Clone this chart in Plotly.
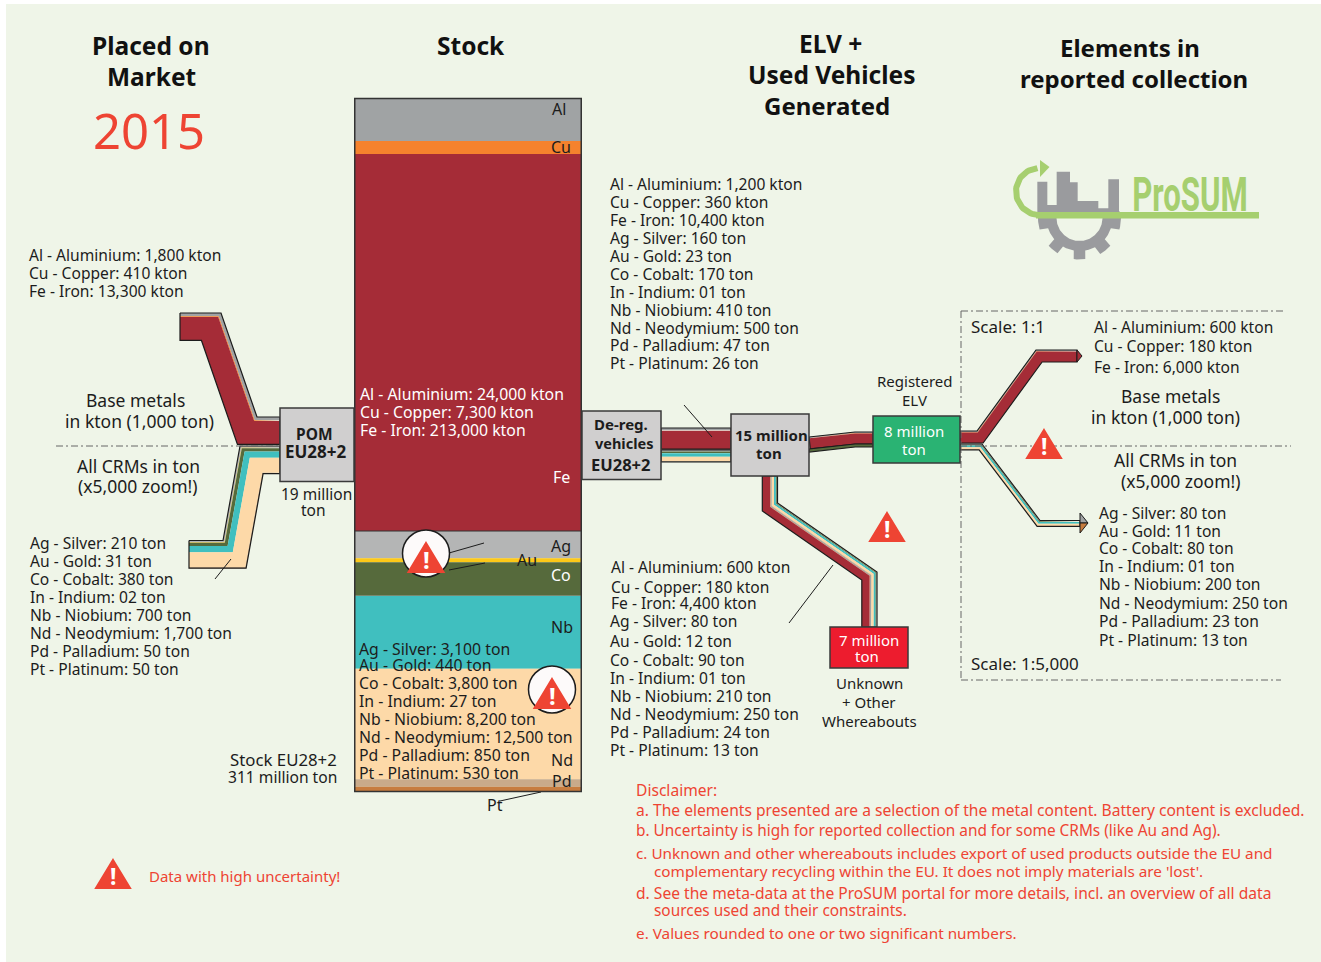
import numpy as np
import plotly.graph_objects as go

BASE_NAMES = ["Al - Aluminium", "Cu - Copper", "Fe - Iron"]
CRM_NAMES = ["Ag - Silver", "Au - Gold", "Co - Cobalt", "In - Indium",
             "Nb - Niobium", "Nd - Neodymium", "Pd - Palladium", "Pt - Platinum"]
BASE_COLORS = ["#a0a3a4", "#f5822d", "#a52c37"]
CRM_COLORS = ["#b4b5b5", "#fdc818", "#566a3c", "#7a8a70", "#40bfbf", "#fdd9a8", "#c9aa8a", "#c77c3f"]

# kton
POM_BASE = [1800, 410, 13300]
STOCK_BASE = [24000, 7300, 213000]
DEREG_BASE = [1200, 360, 10400]
UNKNOWN_BASE = [600, 180, 4400]
COLLECT_BASE = [600, 180, 6000]
# ton
POM_CRM = [210, 31, 380, 2, 700, 1700, 50, 50]
STOCK_CRM = [3100, 440, 3800, 27, 8200, 12500, 850, 530]
DEREG_CRM = [160, 23, 170, 1, 410, 500, 47, 26]
UNKNOWN_CRM = [80, 12, 90, 1, 210, 250, 24, 13]
COLLECT_CRM = [80, 11, 80, 1, 200, 250, 23, 13]

# px per kton / per ton (the 1:5,000 zoom)
KTON = 1.77 / 1000
TON = 1.77 / 200

FONT = "Noto Sans"
INK = "#1c1c1c"
RED = "#ee4433"
PAGE = "#eff5e8"
LIST_SIZE = 15.6

fig = go.Figure()


def label(x, y, text, size=15, color=INK, anchor="left", bold=False, font=FONT):
    # annotations sit about 2px right and a bit low of the asked position
    fig.add_annotation(
        x=x - 2 if anchor == "left" else x, y=y - 0.5, text=f"<b>{text}</b>" if bold else text,
        showarrow=False, xanchor=anchor, yanchor="middle",
        font=dict(size=size, color=color, family=font),
    )


def poly(points, color, line=None, width=0):
    xs, ys = zip(*points)
    fig.add_trace(go.Scatter(
        x=list(xs) + [xs[0]], y=list(ys) + [ys[0]], mode="lines", fill="toself", fillcolor=color,
        line=dict(color=line or color, width=width), hoverinfo="skip",
    ))


def stroke(points, color=INK, width=1, dash=None):
    xs, ys = zip(*points)
    fig.add_trace(go.Scatter(
        x=xs, y=ys, mode="lines", line=dict(color=color, width=width, dash=dash), hoverinfo="skip",
    ))


def offset_path(path, dist):
    # mitred parallel of a polyline
    path = np.array(path, dtype=float)
    seg = np.diff(path, axis=0)
    seg = seg / np.linalg.norm(seg, axis=1, keepdims=True)
    normals = np.column_stack([-seg[:, 1], seg[:, 0]])
    out = [path[0] + normals[0] * dist]
    for i in range(1, len(path) - 1):
        m = normals[i - 1] + normals[i]
        m = m / np.linalg.norm(m)
        out.append(path[i] + m * dist / np.dot(m, normals[i]))
    out.append(path[-1] + normals[-1] * dist)
    return np.array(out)


def ribbon(path, widths, colors, outline=1.2):
    edges = np.concatenate([[0], np.cumsum(widths)])
    for i, color in enumerate(colors):
        a = offset_path(path, edges[i])
        b = offset_path(path, edges[i + 1])
        poly(list(map(tuple, a)) + list(map(tuple, b[::-1])), color)
    if outline:
        top = list(map(tuple, offset_path(path, 0)))
        bottom = list(map(tuple, offset_path(path, edges[-1])))
        stroke(top + bottom[::-1] + top[:1], width=outline)


def box(x0, y0, x1, y1, color):
    fig.add_shape(type="rect", x0=x0, y0=y0, x1=x1, y1=y1, fillcolor=color,
                  line=dict(color="#3a3a3a", width=1.5), layer="above")


def warning(cx, top, w=34, h=28, circled=False):
    if circled:
        fig.add_shape(type="circle", x0=cx - 23.5, y0=top - 13, x1=cx + 23.5, y1=top + 34, fillcolor="#fdfafa",
                      line=dict(color=INK, width=1.5), layer="above")
    fig.add_shape(type="path", path=f"M {cx} {top} L {cx + w / 2} {top + h} L {cx - w / 2} {top + h} Z",
                  fillcolor=RED, line=dict(color=RED, width=2, ), layer="above")
    label(cx, top + h * 0.6, "!", size=int(h * 0.85), color="white", anchor="center", bold=True)


# flows
ribbon([(180, 313), (221, 313), (257, 417), (280, 417)],
       np.array(POM_BASE) * KTON, BASE_COLORS)
ribbon([(189, 540.5), (223, 540.5), (240, 446), (280, 446)],
       np.array(POM_CRM) * TON, CRM_COLORS)
ribbon([(661, 428), (731, 428)], np.array(DEREG_BASE) * KTON, BASE_COLORS)
ribbon([(661, 450), (731, 450)], np.array(DEREG_CRM) * TON, CRM_COLORS)
ribbon([(809, 437), (855, 432), (873, 432)], np.array(COLLECT_BASE) * KTON, BASE_COLORS)
ribbon([(809, 449), (855, 444), (873, 444)], [3], [CRM_COLORS[2]])
ribbon([(777.5, 476), (777.5, 503), (877, 572), (877, 627)],
       np.concatenate([np.array(UNKNOWN_CRM) * TON, np.array(UNKNOWN_BASE) * KTON]), CRM_COLORS + BASE_COLORS)
ribbon([(960, 431), (977, 431), (1036, 350), (1077, 350)], np.array(COLLECT_BASE) * KTON, BASE_COLORS)
poly([(1077, 350), (1082, 356), (1077, 362)], BASE_COLORS[2], line=INK, width=1)
ribbon([(960, 444), (982, 444), (1040, 520.5), (1080, 520.5)], np.array(COLLECT_CRM) * TON, CRM_COLORS)
poly([(1080, 513), (1088, 523), (1080, 523)], BASE_COLORS[0], line=INK, width=1)
poly([(1080, 523), (1088, 523), (1080, 533)], CRM_COLORS[7], line=INK, width=1)

# stock column, built from the values
stock_h = np.concatenate([np.array(STOCK_BASE) * KTON, np.array(STOCK_CRM) * TON])
stock_base = 98.5 + np.concatenate([[0], np.cumsum(stock_h)[:-1]])
fig.add_trace(go.Bar(
    x=[468] * len(stock_h), y=stock_h, base=stock_base, width=[226.5] * len(stock_h),
    marker=dict(color=BASE_COLORS + CRM_COLORS, line=dict(width=0)), hoverinfo="skip",
))
fig.add_shape(type="rect", x0=354.75, x1=581.25, y0=98.5, y1=98.5 + stock_h.sum(),
              line=dict(color="#333333", width=1.5), layer="above")
fig.add_shape(type="line", x0=354.75, x1=581.25, y0=531, y1=531, line=dict(color="#333333", width=1), layer="above")

# dash-dot frame and scale split
GUIDE = dict(color="#666666", width=1, dash="7px,3px,2px,3px")
stroke([(56, 446), (280, 446)], **GUIDE)
stroke([(960, 446), (1291, 446)], **GUIDE)
stroke([(961, 311), (1285, 311)], **GUIDE)
stroke([(961, 311), (961, 680)], **GUIDE)
stroke([(961, 680), (1281, 680)], **GUIDE)

# leader lines
for seg in [[(215, 579), (231, 559)], [(449, 553), (484, 543)], [(449, 570), (485, 563)],
            [(500, 801), (541, 792)], [(684, 405), (712, 437)], [(789, 623), (833, 565)]]:
    stroke(seg, width=1)

# nodes
box(280, 408, 354, 481.5, "#d0cfcf")
box(582, 411, 661, 479.5, "#d0cfcf")
box(731, 414, 809, 476, "#d0cfcf")
box(873, 416, 960, 463, "#2ab373")
box(830, 627, 908, 668, "#ed1c2e")

warning(426, 543, w=35, h=29, circled=True)
warning(552, 679, w=35, h=29, circled=True)
warning(887, 513)
warning(1044, 430)
warning(113, 860, w=34, h=28)

# logo
LOGO_GREY = "#9a9b9e"
LOGO_GREEN = "#a6cf6f"
skyline = [(112, 95), (142, 95), (142, 165), (170, 165), (170, 65), (210, 65), (210, 97), (233, 97), (233, 153),
           (295, 153), (295, 175), (325, 175), (325, 88), (357, 88), (357, 182), (362, 190), (112, 190)]
poly([(1000 + a / 3, 150 + b / 3) for a, b in skyline], LOGO_GREY)
gear_c = (1079.5, 218)
ang = np.radians(np.linspace(0, 180, 91))
tooth = np.zeros_like(ang)
for t in [8, 50, 90, 130, 172]:
    tooth = np.maximum(tooth, (np.abs(np.degrees(ang) - t) < 10) * 1.0)
r_out = 33 + 8.5 * tooth
outer = [(gear_c[0] + r * np.cos(a), gear_c[1] + r * np.sin(a)) for r, a in zip(r_out, ang)]
inner = [(gear_c[0] + 23 * np.cos(a), gear_c[1] + 23 * np.sin(a)) for a in ang[::-1]]
poly(outer + inner, LOGO_GREY)
fig.add_shape(type="rect", x0=1036, x1=1259, y0=212, y1=218.5, fillcolor=LOGO_GREEN, line=dict(width=0), layer="above")
arc = np.radians(np.linspace(95, 265, 40))
fig.add_trace(go.Scatter(
    x=1039.5 + 23.5 * np.cos(arc), y=191.5 + 23.5 * np.sin(-arc), mode="lines",
    line=dict(color=LOGO_GREEN, width=6), hoverinfo="skip",
))
poly([(1040, 160), (1049.5, 167), (1040, 177)], LOGO_GREEN)
label(1190, 195, "ProSUM", size=48, color=LOGO_GREEN, anchor="center", bold=True, font="Roboto")


def amount(name, value, unit):
    text = f"{value:02d}" if value < 10 else f"{value:,}"
    return f"{name}: {text} {unit}"


def value_list(x, ys, names, values, unit, size=LIST_SIZE, **kw):
    for y, name, value in zip(ys, names, values):
        label(x, y, amount(name, value, unit), size=size, **kw)


# headings
for x, y, t, s in [(151, 45.5, "Placed on", 24.5), (151, 76.5, "Market", 24.5), (471, 45.5, "Stock", 24.5),
                   (830, 43.5, "ELV +", 24.5), (831, 74.5, "Used Vehicles", 24.5), (827, 105.5, "Generated", 24),
                   (1130, 47.5, "Elements in", 24), (1134, 78.5, "reported collection", 24)]:
    label(x, y, t, size=s, color="#111111", anchor="center", bold=True)
label(149, 130.5, "2015", size=49, color=RED, anchor="center")

# placed on market
value_list(29, [255, 273, 291], BASE_NAMES, POM_BASE, "kton")
value_list(30, [543, 561, 579, 597, 615, 633, 651, 669], CRM_NAMES, POM_CRM, "ton")
label(135, 400, "Base metals", size=17.5, anchor="center")
label(139, 421, "in kton (1,000 ton)", size=17.5, anchor="center")
label(138, 466, "All CRMs in ton", size=17.5, anchor="center")
label(138, 486, "(x5,000 zoom!)", size=17.5, anchor="center")
label(316, 494, "19 million", size=15.5, anchor="center")
label(313, 510, "ton", size=15.5, anchor="center")
label(314, 434, "POM", size=15.5, anchor="center", bold=True)
label(316, 452, "EU28+2", size=17, anchor="center", bold=True)

# stock
value_list(360, [394, 412, 430], BASE_NAMES, STOCK_BASE, "kton", size=15.8, color="white")
value_list(359, [649, 665, 683, 701, 719, 737, 755, 773], CRM_NAMES, STOCK_CRM, "ton", size=15.8)
for x, y, t, c in [(559, 109, "Al", INK), (561, 147, "Cu", INK), (561, 477, "Fe", "white"), (561, 546, "Ag", INK),
                   (527, 560, "Au", INK), (561, 575, "Co", "white"), (562, 627, "Nb", INK), (562, 760, "Nd", INK),
                   (562, 781, "Pd", INK), (495, 805, "Pt", INK)]:
    label(x, y, t, size=16, color=c, anchor="center")
label(283, 760, "Stock EU28+2", size=16.8, anchor="center")
label(282, 777, "311 million ton", size=15.6, anchor="center")

# ELV + used vehicles
value_list(610, [184, 202, 220], BASE_NAMES, DEREG_BASE, "kton")
value_list(610, [238, 256, 274, 292, 310, 328, 345, 363], CRM_NAMES, DEREG_CRM, "ton")
value_list(611, [567, 587, 603], BASE_NAMES, UNKNOWN_BASE, "kton")
value_list(610, [621, 641, 660, 678, 696, 714, 732, 750], CRM_NAMES, UNKNOWN_CRM, "ton")
label(621, 424, "De-reg.", size=15, anchor="center", bold=True)
label(624, 443, "vehicles", size=14.5, anchor="center", bold=True)
label(620, 465, "EU28+2", size=16.5, anchor="center", bold=True)
label(771, 435, "15 million", anchor="center", bold=True)
label(769, 453, "ton", anchor="center", bold=True)
label(914, 431, "8 million", color="white", anchor="center")
label(914, 449, "ton", color="white", anchor="center")
label(869, 640, "7 million", color="white", anchor="center")
label(867, 656, "ton", color="white", anchor="center")
label(915, 381, "Registered", anchor="center")
label(914, 400, "ELV", anchor="center")
label(869, 683, "Unknown", anchor="center")
label(869, 702, "+ Other", anchor="center")
label(869, 721, "Whereabouts", anchor="center")

# reported collection
label(971, 327, "Scale: 1:1", size=17)
label(971, 664, "Scale: 1:5,000", size=17)
value_list(1094, [327, 346, 367], BASE_NAMES, COLLECT_BASE, "kton")
value_list(1099, [513, 531, 548, 566, 584, 603, 621, 640], CRM_NAMES, COLLECT_CRM, "ton")
label(1170, 396, "Base metals", size=17.5, anchor="center")
label(1165, 417, "in kton (1,000 ton)", size=17.5, anchor="center")
label(1175, 460, "All CRMs in ton", size=17.5, anchor="center")
label(1181, 481, "(x5,000 zoom!)", size=17.5, anchor="center")

# notes
label(149, 876, "Data with high uncertainty!", color=RED)
disclaimer = [
    (636, 790, 15.6, "Disclaimer:"),
    (636, 810, 15.6, "a. The elements presented are a selection of the metal content. Battery content is excluded."),
    (636, 831, 15.4, "b. Uncertainty is high for reported collection and for some CRMs (like Au and Ag)."),
    (636, 853, 15.3, "c. Unknown and other whereabouts includes export of used products outside the EU and"),
    (654, 871, 15.3, "complementary recycling within the EU. It does not imply materials are 'lost'."),
    (636, 893, 15.6, "d. See the meta-data at the ProSUM portal for more details, incl. an overview of all data"),
    (654, 911, 15.4, "sources used and their constraints."),
    (636, 933, 15.3, "e. Values rounded to one or two significant numbers."),
]
for x, y, s, t in disclaimer:
    label(x, y, t, size=s, color=RED)

fig.add_shape(type="rect", x0=6, x1=1321, y0=4, y1=962, fillcolor=PAGE, line=dict(width=0), layer="below")
fig.update_xaxes(range=[0, 1321], visible=False, fixedrange=True)
fig.update_yaxes(range=[962, 0], visible=False, fixedrange=True)
fig.update_layout(
    width=1321, height=962, margin=dict(l=0, r=0, t=0, b=0), showlegend=False,
    paper_bgcolor="white", plot_bgcolor="white", barmode="overlay", font=dict(family=FONT),
)
# logo lettering is tall and squeezed, annotations can't do that on their own
squeeze = """
document.body.style.margin = '0';
document.querySelectorAll('.annotation-text').forEach(function (t) {
  if (t.textContent === 'ProSUM') {
    t.style.transformBox = 'fill-box';
    t.style.transformOrigin = 'center';
    t.style.transform = 'scaleX(0.65)';
  }
});
"""
fig.write_html("out.html", config=dict(displayModeBar=False), post_script=squeeze)
